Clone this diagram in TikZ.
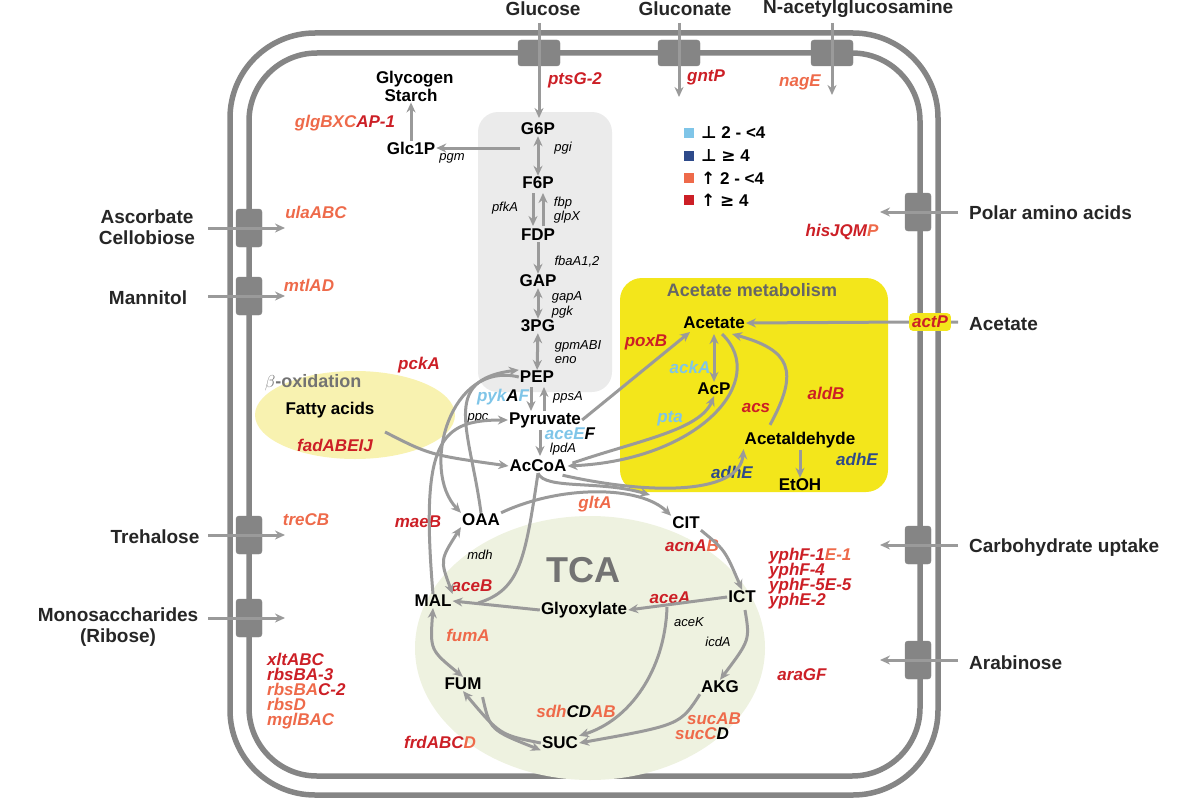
\documentclass[tikz,border=0pt]{standalone}
\usepackage{fontspec}
\setmainfont{Liberation Sans}
\newfontfamily\symf{DejaVu Sans}
\usetikzlibrary{arrows.meta}
\definecolor{lb}{HTML}{7FC5E8}
\definecolor{db}{HTML}{2E4A8A}
\definecolor{og}{HTML}{EE6A4A}
\definecolor{rd}{HTML}{CC1F26}
\definecolor{ag}{HTML}{9A9A9A}
\definecolor{mem}{HTML}{858585}
\definecolor{yl}{HTML}{F3E61B}
\definecolor{lyl}{HTML}{F8F2B0}
\definecolor{tg}{HTML}{EEF2E0}
\newcommand{\cO}[1]{\textcolor{og}{#1}}
\newcommand{\cR}[1]{\textcolor{rd}{#1}}
\newcommand{\cL}[1]{\textcolor{lb}{#1}}
\newcommand{\cD}[1]{\textcolor{db}{#1}}
\begin{document}
\begin{tikzpicture}[x=1pt,y=-1pt,
 met/.style={font=\fontsize{17}{18}\selectfont\bfseries,inner sep=1pt},
 big/.style={font=\fontsize{19}{21}\selectfont\bfseries,align=center,inner sep=1pt,text=black!85},
 gene/.style={font=\fontsize{17}{18}\selectfont\bfseries\itshape,inner sep=1pt},
 enz/.style={font=\fontsize{13}{14.5}\selectfont\itshape,inner sep=1pt,align=left},
 arr/.style={draw=ag,line width=3pt,-{Stealth[length=10pt,width=9pt]}},
 darr/.style={draw=ag,line width=3pt,{Stealth[length=10pt,width=9pt]}-{Stealth[length=10pt,width=9pt]}},
 tp/.style={draw=mem,fill=mem,rounded corners=3pt,minimum width=26pt,minimum height=38pt,inner sep=0pt},
 tph/.style={tp,minimum width=42pt,minimum height=26pt},
 mem/.style={draw=mem,line width=5.5pt}]
\useasboundingbox (0,0) rectangle (1204,800);
% membranes
\draw[mem,rounded corners=85pt] (230,33) rectangle (938,795);
\draw[mem,rounded corners=68pt] (249,53) rectangle (920,776);
% backgrounds
\fill[black!8,rounded corners=20pt] (478,112) rectangle (612,392);
\fill[yl,rounded corners=22pt] (620,278) rectangle (888,492);
\fill[lyl] (355,415) ellipse [x radius=100,y radius=44];
\fill[tg] (590,648) ellipse [x radius=175,y radius=132];
% transporters
\node[tph] (tGlc) at (539,53) {};
\node[tph] (tGln) at (679,53) {};
\node[tph] (tNag) at (832,53) {};
\node[tp] (tAsc) at (249,228) {};
\node[tp] (tMan) at (249,296) {};
\node[tp] (tTre) at (249,535) {};
\node[tp] (tMon) at (249,618) {};
\node[tp] (tPol) at (918,212) {};
\node[tp] (tCar) at (918,545) {};
\node[tp] (tAra) at (918,660) {};
% outer labels
\node[big] (Glucose) at (543,9) {Glucose};
\node[big] (Gluconate) at (685,9) {Gluconate};
\node[big,anchor=west] (NAG) at (762,9) {N-acetylglucosamine};
\node[big] (Asc) at (147,227) {Ascorbate\\Cellobiose};
\node[big] (Man) at (148,298) {Mannitol};
\node[big] (Tre) at (155,537) {Trehalose};
\node[big] (Mon) at (118,627) {Monosaccharides\\(Ribose)};
\node[big,anchor=west] (Pol) at (968,213) {Polar amino acids};
\node[big,anchor=west] (AceOut) at (968,324) {Acetate};
\node[big,anchor=west] (Car) at (968,548) {Carbohydrate uptake};
\node[big,anchor=west] (Ara) at (968,663) {Arabinose};
% transporter arrows
\draw[arr] (539,23) -- (539,118);
\draw[arr] (679,23) -- (679,97);
\draw[arr] (832,23) -- (832,95);
\draw[arr] (208,228) -- (285,228);
\draw[arr] (208,296) -- (285,296);
\draw[arr] (208,535) -- (285,535);
\draw[arr] (208,618) -- (285,618);
\draw[arr] (958,212) -- (880,212);
\draw[arr] (958,545) -- (880,545);
\draw[arr] (958,660) -- (880,660);
% gene labels outside
\node[gene,text=rd] (ptsG) at (575,80) {ptsG-2};
\node[gene,text=rd] (gntP) at (706,77) {gntP};
\node[gene,text=og] (nagE) at (800,82) {nagE};
\node[gene] (ula) at (316,212) {\cO{ulaABC}};
\node[gene] (mtl) at (309,285) {\cO{mtlAD}};
\node[gene] (tre) at (306,520) {\cO{treCB}};
\node[gene,align=left,anchor=north west] (rbs) at (266,652) {\cR{xltABC}\\[-3pt]\cR{rbsBA-3}\\[-3pt]\cO{rbsBA}\cR{C-2}\\[-3pt]\cO{rbsD}\\[-3pt]\cO{mglBAC}};
\node[gene] (his) at (842,232) {\cR{hisJQM}\cO{P}};
\node[gene,align=left,anchor=north west] (yph) at (768,547) {\cR{yphF-1}\cO{E-1}\\[-3pt]\cR{yphF-4}\\[-3pt]\cR{yphF-5E-5}\\[-3pt]\cR{yphE-2}};
\node[gene] (ara) at (802,675) {\cR{araGF}};
% glycolysis
\node[met] (Gly) at (411,86) {\parbox{70pt}{\centering Glycogen\\Starch}};
\node[gene] (glg) at (345,123) {\cO{glgBXC}\cR{AP-1}};
\node[met] (Glc1P) at (411,148) {Glc1P};
\node[enz] (pgm) at (452,158) {pgm};
\node[met] (G6P) at (538,129) {G6P};
\node[enz] (pgi) at (563,148) {pgi};
\node[met] (F6P) at (538,183) {F6P};
\node[enz] (pfk) at (505,208) {pfkA};
\node[enz] (fbp) at (567,210) {fbp\\glpX};
\node[met] (FDP) at (538,235) {FDP};
\node[enz] (fba) at (577,262) {fbaA1,2};
\node[met] (GAP) at (538,281) {GAP};
\node[enz] (gap) at (567,305) {gapA\\pgk};
\node[met] (PG3) at (538,326) {3PG};
\node[enz] (gpm) at (578,352) {gpmABI\\eno};
\node[met] (PEP) at (537,377) {PEP};
\node[gene] (pyk) at (503,397) {\cL{pyk}A\cL{F}};
\node[enz] (pps) at (568,397) {ppsA};
\node[met] (Pyr) at (545,420) {Pyruvate};
\node[enz] (ppc) at (478,418) {ppc};
\node[gene] (ace) at (570,434) {\cL{aceE}F};
\node[enz] (lpd) at (563,449) {lpdA};
\node[met] (AcCoA) at (538,466) {AcCoA};
\draw[arr] (Glc1P) -- (Gly);
\draw[arr] (520,148) -- (Glc1P.east);
\draw[darr] (G6P) -- (F6P);
\draw[arr] (533,193) -- (533,226);
\draw[arr] (543,226) -- (543,193);
\draw[arr] (FDP) -- (GAP);
\draw[darr] (GAP) -- (PG3);
\draw[darr] (PG3) -- (PEP);
\draw[arr] (531,387) -- (531,411);
\draw[arr] (544,411) -- (544,387);
\draw[arr] (540,430) -- (540,456);
% legend
\fill[lb] (684,128) rectangle (694,138);
\fill[db] (684,151) rectangle (694,161);
\fill[og] (684,173) rectangle (694,183);
\fill[rd] (684,195) rectangle (694,205);
\node[met,anchor=west] (L1) at (700,133) {{\symf\bfseries ⊥} 2 - <4};
\node[met,anchor=west] (L2) at (700,156) {{\symf\bfseries ⊥} {\symf\bfseries ≥} 4};
\node[met,anchor=west] (L3) at (700,178) {{\symf\bfseries ↑} 2 - <4};
\node[met,anchor=west] (L4) at (700,200) {{\symf\bfseries ↑} {\symf\bfseries ≥} 4};
% acetate
\node[font=\fontsize{18}{19}\selectfont\bfseries,text=black!60] (AMT) at (752,290) {Acetate metabolism};
\node[met] (Acet) at (714,323) {Acetate};
\node[gene] (pox) at (646,342) {\cR{poxB}};
\node[gene] (ack) at (690,367) {\cL{ackA}};
\node[met] (AcP) at (714,389) {AcP};
\node[gene] (pta) at (670,419) {\cL{pta}};
\node[gene] (acs) at (756,408) {\cR{acs}};
\node[gene] (ald) at (826,393) {\cR{aldB}};
\node[met] (Ald) at (800,440) {Acetaldehyde};
\node[gene] (adh1) at (857,459) {\cD{adhE}};
\node[gene] (adh2) at (732,472) {\cD{adhE}};
\node[met] (EtOH) at (800,485) {EtOH};
\node[gene,fill=yl,rounded corners=4pt,inner sep=3pt] (actP) at (930,322) {\cR{actP}};
\draw[arr] (958,322) -- (actP.east) (actP.west) -- (Acet.east);
\draw[darr] (714,334) -- (AcP.north);
\draw[arr] (Pyr.east) -- (690,332);
\draw[arr] (AcCoA.east) ++(5,-3) .. controls (640,440) and (700,430) .. (AcP.south);
\draw[arr] (722,334) .. controls (770,380) and (700,460) .. (AcCoA.east);
\draw[arr] (Ald.north) ++(-30,-6) .. controls (800,370) and (790,350) .. (732,334);
\draw[arr] (AcCoA.south east) ++(-5,2) .. controls (660,497) and (740,492) .. (Ald.south west);
\draw[arr] (Ald.south) ++(0,1) -- (EtOH.north);
% beta-oxidation
\node[font=\fontsize{18}{19}\selectfont\bfseries,text=black!55] (box) at (313,383) {$\beta$-oxidation};
\node[met] (FA) at (330,410) {Fatty acids};
\node[gene] (fad) at (335,445) {\cR{fadABEIJ}};
\node[gene] (pck) at (419,365) {\cR{pckA}};
\draw[arr] (385,432) .. controls (430,455) .. (AcCoA.west);
% TCA
\node[font=\fontsize{36}{38}\selectfont\bfseries,text=black!55] (TCA) at (583,570) {TCA};
\node[met] (OAA) at (481,520) {OAA};
\node[met] (CIT) at (686,523) {CIT};
\node[met] (ICT) at (742,597) {ICT};
\node[met] (AKG) at (720,687) {AKG};
\node[met] (SUC) at (560,743) {SUC};
\node[met] (FUM) at (463,684) {FUM};
\node[met] (MAL) at (433,601) {MAL};
\node[met] (Glx) at (584,610) {Glyoxylate};
\node[gene] (glt) at (595,504) {\cO{gltA}};
\node[gene] (acn) at (692,546) {\cR{acnA}\cO{B}};
\node[gene] (aceA) at (670,598) {\cR{aceA}};
\node[enz] (aceK) at (689,622) {aceK};
\node[enz] (icd) at (718,642) {icdA};
\node[gene,align=left] (suc) at (708,726) {\hspace{12pt}\cO{sucAB}\\[-3pt]\cO{sucC}D};
\node[gene] (sdh) at (576,711) {\cO{sdh}CD\cO{AB}};
\node[gene] (frd) at (440,742) {\cR{frdABC}\cO{D}};
\node[gene] (fum) at (468,635) {\cO{fumA}};
\node[gene] (aceB) at (472,586) {\cR{aceB}};
\node[enz] (mdh) at (480,555) {mdh};
\node[gene] (mae) at (418,522) {\cR{maeB}};
\draw[arr] (OAA.north east) .. controls (560,485) and (640,485) .. (CIT.north west);
\draw[arr] (AcCoA.south) .. controls (545,490) and (600,480) .. (650,495);
\draw[arr] (CIT.south east) .. controls (725,550) .. (ICT.north);
\draw[arr] (745,610) .. controls (750,640) .. (AKG.north);
\draw[arr] (AKG.south west) .. controls (680,725) .. (SUC.east);
\draw[arr] (SUC.west) .. controls (500,735) .. (FUM.south);
\draw[arr] (FUM.south east) ++(0,6) .. controls (490,730) .. (SUC.south west);
\draw[darr] (FUM.north) .. controls (430,650) .. (MAL.south);
\draw[darr] (MAL.north east) .. controls (440,560) .. (OAA.south west);
\draw[arr] (ICT.west) -- (Glx.east);
\draw[arr] (Glx.west) -- (MAL.east);
\draw[draw=ag,line width=3pt] (478,603) .. controls (520,590) and (525,560) .. (AcCoA.south);
\draw[arr] (667,607) .. controls (665,670) and (630,720) .. (SUC.north east);
% anaplerotic curves
\draw[arr] (PEP.west) .. controls (450,360) and (420,470) .. (OAA.north west);
\draw[arr] (OAA.north) .. controls (470,430) and (440,380) .. (PEP.north west);
\draw[arr] (MAL.north) .. controls (420,440) and (440,420) .. (Pyr.west);
\end{tikzpicture}
\end{document}
